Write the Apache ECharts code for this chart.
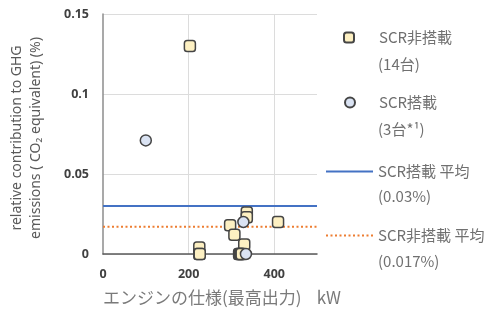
<!DOCTYPE html>
<html>
<head>
<meta charset="utf-8">
<script src="https://cdn.jsdelivr.net/npm/echarts@6/dist/echarts.min.js"></script>
<style>
  html, body { margin: 0; padding: 0; background: #ffffff; }
  #chart { width: 490px; height: 322px; }
</style>
</head>
<body>
<div id="chart"></div>
<script>
// Engine rating (kW) vs. relative contribution to GHG emissions (%)
const nonScrPoints = [
  [203, 0.130], [225, 0.004], [225, 0.000], [226, 0.000],
  [297, 0.018], [307, 0.012], [330, 0.006], [318, 0.000],
  [320, 0.000], [322, 0.000], [324, 0.000], [336, 0.026],
  [336, 0.023], [409, 0.020]
];
const scrPoints = [[100, 0.071], [328, 0.020], [334, 0.000]];
const scrAverage = 0.03;
const nonScrAverage = 0.017;
const xRange = [0, 500];
const yRange = [0, 0.15];

const seriesNames = ['SCR非搭載', 'SCR搭載', 'SCR搭載 平均', 'SCR非搭載 平均'];
const seriesNotes = ['(14台)', '(3台*¹)', '(0.03%)', '(0.017%)'];

const cjk = '"Noto Sans CJK JP", "Noto Sans", sans-serif';
const legendColor = '#707070';
const legendText = { color: legendColor, fontSize: 15, fontFamily: cjk };

const chart = echarts.init(document.getElementById('chart'), null, { renderer: 'canvas' });

function scatterLegend(name, top, left, size) {
  return {
    data: [name], top: top, left: left, orient: 'vertical',
    itemWidth: size, itemHeight: size, padding: 0,
    selectedMode: false,
    textStyle: Object.assign({ padding: [0, 0, 0, 378 - left - size - 5] }, legendText)
  };
}
function lineLegend(name, top) {
  return {
    data: [name], top: top, left: 325, orient: 'vertical',
    itemWidth: 47, itemHeight: 10, padding: 0,
    selectedMode: false,
    itemStyle: { opacity: 0 },
    textStyle: legendText
  };
}
function note(text, y) {
  return {
    type: 'text', x: 378, y: y,
    style: { text: text, fill: legendColor, font: '15px ' + cjk, verticalAlign: 'middle' }
  };
}

chart.setOption({
  animation: false,
  grid: { left: 103, right: 173, top: 14, bottom: 68 },
  xAxis: {
    type: 'value', min: xRange[0], max: xRange[1], interval: 200,
    axisLine: { show: true, lineStyle: { color: '#595959', width: 1.5 } },
    axisTick: { show: false },
    axisLabel: { showMaxLabel: false, color: '#404040', fontSize: 12.5, fontWeight: 'bold',
                 fontFamily: '"Open Sans", sans-serif', margin: 14 },
    splitLine: { show: true, showMinLine: false, showMaxLine: false,
                 lineStyle: { color: '#dcdcdc', width: 1 } }
  },
  yAxis: {
    type: 'value', min: yRange[0], max: yRange[1], interval: 0.05,
    axisLine: { show: true, lineStyle: { color: '#8c8c8c', width: 1.5 } },
    axisTick: { show: false },
    axisLabel: { color: '#404040', fontSize: 12.5, fontWeight: 'bold',
                 fontFamily: '"Open Sans", sans-serif', margin: 14 },
    splitLine: { show: true, lineStyle: { color: '#dcdcdc', width: 1 } }
  },
  legend: [
    scatterLegend(seriesNames[0], 30, 343, 10),
    scatterLegend(seriesNames[1], 95, 344, 10),
    lineLegend(seriesNames[2], 164),
    lineLegend(seriesNames[3], 228)
  ],
  graphic: [
    {
      type: 'text', x: 27, y: 138, rotation: Math.PI / 2,
      style: {
        text: 'relative contribution to GHG\nemissions ( CO₂ equivalent) (%)',
        fill: '#595959', font: '14px "Noto Sans", sans-serif',
        align: 'center', verticalAlign: 'middle', lineHeight: 19
      }
    },
    {
      type: 'text', x: 103, y: 298,
      style: { text: 'エンジンの仕様(最高出力)    kW', fill: '#7a7a7a', font: '17px ' + cjk,
               verticalAlign: 'middle' }
    },
    note(seriesNotes[0], 64),
    note(seriesNotes[1], 129),
    note(seriesNotes[2], 196),
    note(seriesNotes[3], 261)
  ],
  series: [
    {
      name: seriesNames[2], type: 'line', z: 1, symbol: 'none', silent: true,
      data: [[xRange[0], scrAverage], [xRange[1], scrAverage]],
      lineStyle: { color: '#4472C4', width: 2 }, itemStyle: { color: '#4472C4' }
    },
    {
      name: seriesNames[3], type: 'line', z: 1, symbol: 'none', silent: true,
      data: [[xRange[0], nonScrAverage], [xRange[1], nonScrAverage]],
      lineStyle: { color: '#ED7D31', width: 2, type: [2, 2.5] }, itemStyle: { color: '#ED7D31' }
    },
    {
      name: seriesNames[0], type: 'scatter', z: 3, symbol: 'roundRect', symbolSize: 11,
      data: nonScrPoints,
      itemStyle: { color: '#FDF0C2', borderColor: '#454545', borderWidth: 1.5, opacity: 1 }
    },
    {
      name: seriesNames[1], type: 'scatter', z: 4, symbol: 'circle', symbolSize: 11,
      data: scrPoints,
      itemStyle: { color: '#DAE3F3', borderColor: '#454545', borderWidth: 1.5, opacity: 1 }
    }
  ]
});
</script>
</body>
</html>
